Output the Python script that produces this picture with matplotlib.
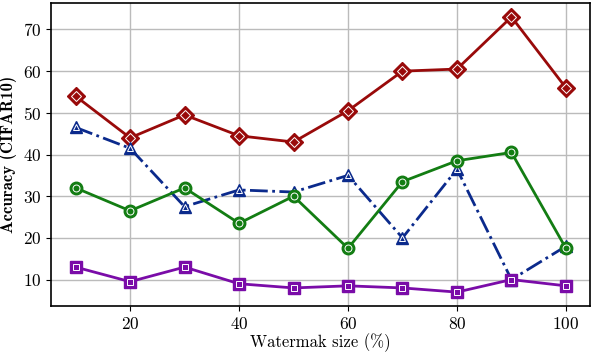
import numpy as np
from matplotlib import pyplot as plt

plt.rcParams['font.family'] = 'serif'
plt.rcParams['font.serif'] = ['cmr10']
plt.rcParams['mathtext.fontset'] = 'cm'
plt.rcParams['axes.formatter.use_mathtext'] = True

# watermark sizes
sizes = [10, 20, 30, 40, 50, 60, 70, 80, 90, 100]

# accuracy for each method
acc_red = [54, 44, 49.5, 44.5, 43, 50.5, 60, 60.5, 73, 56]
acc_blue = [46.5, 41.5, 27.5, 31.5, 31, 35, 20, 36.5, 10, 18]
acc_green = [32, 26.5, 32, 23.5, 30, 17.5, 33.5, 38.5, 40.5, 17.5]
acc_purple = [13, 9.5, 13, 9, 8, 8.5, 8, 7, 10, 8.5]

series = [
    (acc_red, '#990a0a', 'D', '-', 9),
    (acc_blue, '#0b2a8c', '^', '-.', 9),
    (acc_green, '#137d13', 'o', '-', 9),
    (acc_purple, '#7a0ca8', 's', '-', 9),
]

fig = plt.figure(figsize=(5.94, 3.54), dpi=100)
ax = fig.add_axes([0.086, 0.136, 0.908, 0.855])

for y, c, m, ls, ms in series:
    ax.plot(sizes, y, color=c, linestyle=ls, linewidth=2, marker=m,
            markersize=ms, markerfacecolor=c, markeredgecolor=c)
    # white inner outline on top of the markers
    ax.plot(sizes, y, linestyle='none', marker=m, markersize=ms - 4,
            markerfacecolor=c, markeredgecolor='white', markeredgewidth=0.7)

ax.grid(True, color='#bbbbbb', linewidth=1)
ax.set_axisbelow(True)
ax.set_xticks([20, 40, 60, 80, 100])
ax.set_yticks([10, 20, 30, 40, 50, 60, 70])
ax.tick_params(labelsize=12.5)
for s in ax.spines.values():
    s.set_linewidth(1.2)
ax.set_xlabel("Watermak size (%)", fontsize=12, labelpad=1)
ax.set_ylabel("Accuracy (CIFAR10)", fontsize=12, fontname='cmb10')

plt.savefig("out.png")
